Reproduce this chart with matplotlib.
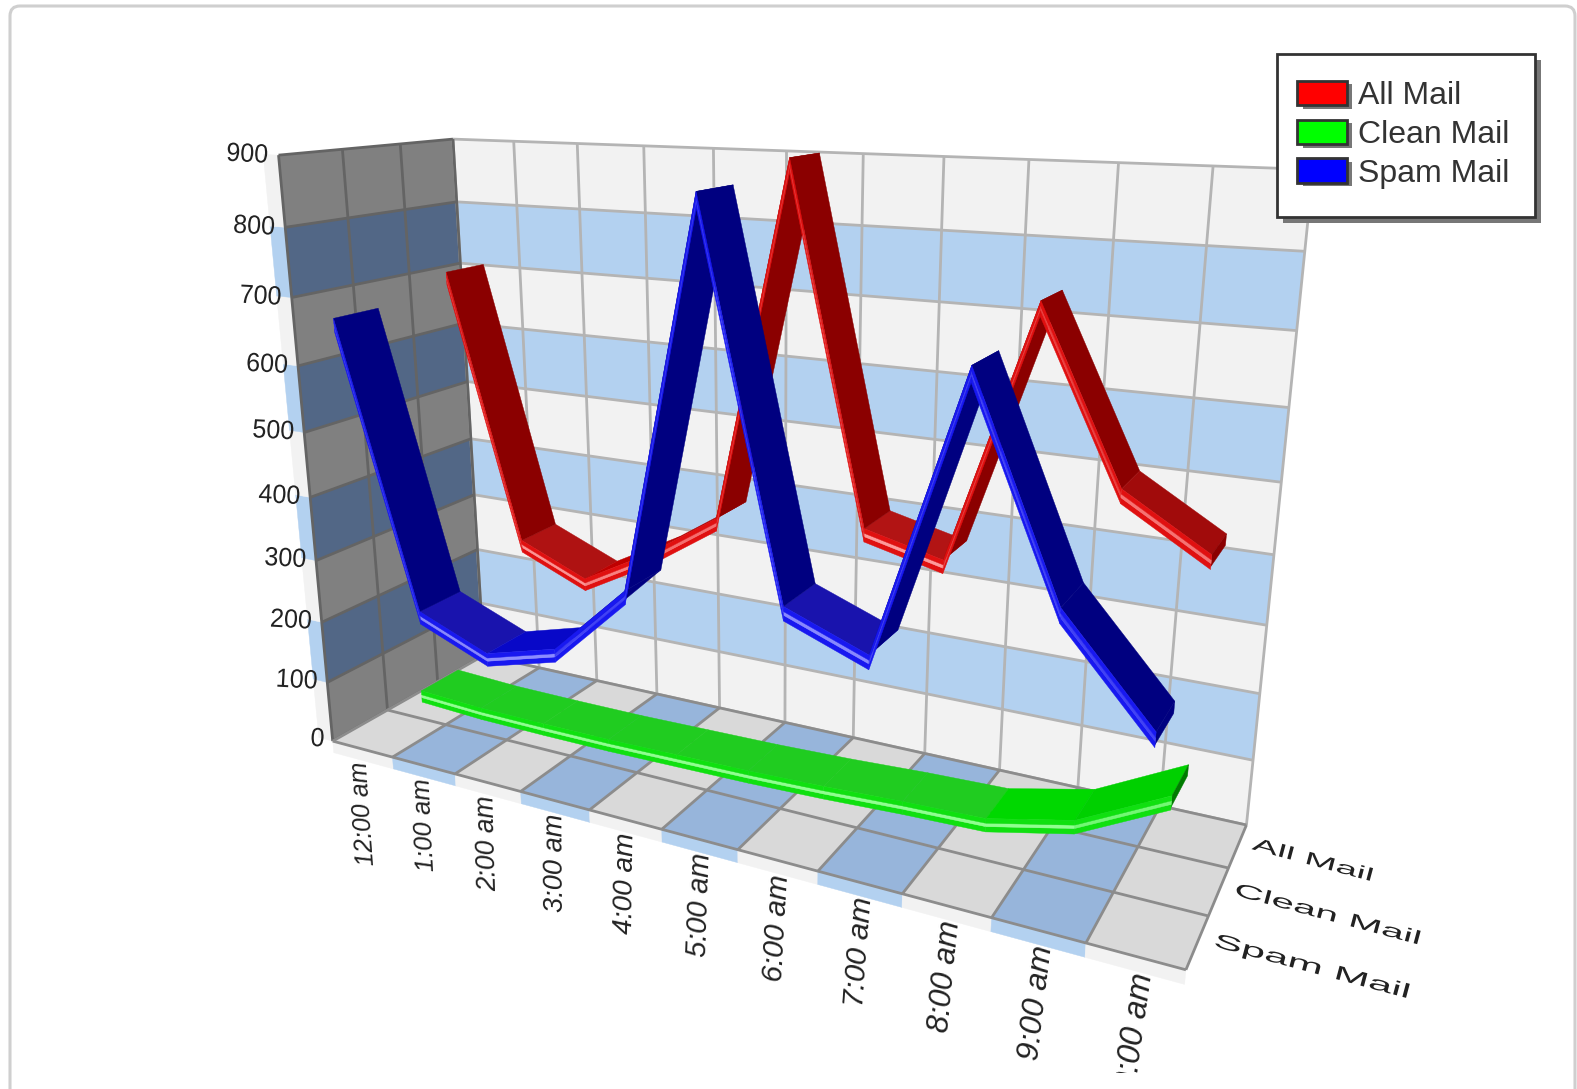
#!/usr/bin/env python3
"""Hourly mail volume as a 3D ribbon chart with banded walls and floor."""

import numpy as np
import matplotlib
matplotlib.use("Agg")
import matplotlib.pyplot as plt
from matplotlib.colors import to_rgb
from matplotlib.patches import FancyBboxPatch, Patch, Rectangle
from matplotlib.patheffects import AbstractPathEffect, withSimplePatchShadow
from matplotlib.transforms import Affine2D, Bbox, IdentityTransform
from mpl_toolkits.mplot3d import proj3d
from mpl_toolkits.mplot3d.art3d import Line3DCollection, Poly3DCollection

WIDTH, HEIGHT = 1577, 1089

hours = ["12:00 am", "1:00 am", "2:00 am", "3:00 am", "4:00 am", "5:00 am",
         "6:00 am", "7:00 am", "8:00 am", "9:00 am", "10:00 am"]
series_names = ["All Mail", "Clean Mail", "Spam Mail"]
all_mail = [704, 278, 232, 293, 368, 900, 388, 360, 732, 496, 425]
clean_mail = [40, 35, 34, 34, 36, 38, 42, 48, 52, 80, 145]
spam_mail = [672, 244, 200, 230, 338, 877, 358, 314, 696, 420, 288]
z_ticks = [0, 100, 200, 300, 400, 500, 600, 700, 800, 900]

RED = dict(dark="#8b0000", flat="#b21414", rise="#d40000", pure="#e01010", pale="#ff9a9a", cap="#8b0000")
GREEN = dict(dark="#00c000", flat="#20cc20", rise="#00d800", pure="#10e010", pale="#90ff90", cap="#007c00")
BLUE = dict(dark="#000080", flat="#1a14b0", rise="#0808c8", pure="#1818f0", pale="#8c8cff", cap="#000080")

# camera fitted against the wall corners of the chart
ELEV, AZIM, ROLL, FOCAL = 16.75, -62.614, 0.104, 0.2437
BOX = (1.0, 0.2902, 0.6802)
SCALE, TX, TY = 6176.75, 762.85, 490.32

RIBBON_WIDTH = 0.74
RIBBON_THICK = 20.0
CAP_THICK = 16.0


class Stretch(AbstractPathEffect):
    """Scale glyphs in the text's own frame, for the look of text lying on a tilted plane."""

    def __init__(self, sx=1.0, sy=1.0, shear=0.0):
        super().__init__()
        self.local = Affine2D().skew_deg(shear, 0).scale(sx, sy)

    def draw_path(self, renderer, gc, tpath, affine, rgbFace=None):
        renderer.draw_path(gc, tpath, self.local + affine, rgbFace)


def add_polys(ax, verts, colors, zorder):
    col = Poly3DCollection(verts, facecolors=colors, edgecolors=colors, linewidths=0.3, zorder=zorder)
    ax.add_collection3d(col, autolim=False)


def add_lines(ax, segs, color, lw, zorder):
    ax.add_collection3d(Line3DCollection(segs, colors=color, linewidths=lw, zorder=zorder), autolim=False)


def draw_walls(ax):
    n_x, n_y, z_top = len(hours), len(series_names), z_ticks[-1]
    back, back_c, side, side_c, strip, strip_c = [], [], [], [], [], []
    for k, (lo, hi) in enumerate(zip(z_ticks[:-1], z_ticks[1:])):
        banded = k % 2 == 1
        back.append([(0, n_y, lo), (n_x, n_y, lo), (n_x, n_y, hi), (0, n_y, hi)])
        back_c.append("#b3d1f0" if banded else "#f2f2f2")
        side.append([(0, 0, lo), (0, n_y, lo), (0, n_y, hi), (0, 0, hi)])
        side_c.append("#526786" if banded else "#808080")
        strip.append([(-0.24, 0, lo), (0, 0, lo), (0, 0, hi), (-0.24, 0, hi)])
        strip_c.append("#b3d1f0" if banded else "#f2f2f2")
    add_polys(ax, back, back_c, 1)
    add_polys(ax, side, side_c, 1)
    add_polys(ax, strip, strip_c, 1)

    segs = [[(i, n_y, 0), (i, n_y, z_top)] for i in range(n_x + 1)]
    segs += [[(0, n_y, z), (n_x, n_y, z)] for z in z_ticks]
    add_lines(ax, segs, "#b4b4b4", 2.0, 2)
    segs = [[(0, j, 0), (0, j, z_top)] for j in range(n_y + 1)]
    segs += [[(0, 0, z), (0, n_y, z)] for z in z_ticks]
    add_lines(ax, segs, "#646464", 2.0, 2)


def draw_floor(ax):
    n_x, n_y = len(hours), len(series_names)
    floor, floor_c, edge, edge_c = [], [], [], []
    for i in range(n_x):
        banded = i % 2 == 1
        floor.append([(i, 0, 0), (i + 1, 0, 0), (i + 1, n_y, 0), (i, n_y, 0)])
        floor_c.append("#97b5db" if banded else "#d9d9d9")
        edge.append([(i, 0, -20), (i + 1, 0, -20), (i + 1, 0, 0), (i, 0, 0)])
        edge_c.append("#b3d1f0" if banded else "#f2f2f2")
    add_polys(ax, edge, edge_c, 3)
    add_polys(ax, floor, floor_c, 3)
    segs = [[(i, 0, 0), (i, n_y, 0)] for i in range(n_x + 1)]
    segs += [[(0, j, 0), (n_x, j, 0)] for j in range(n_y + 1)]
    add_lines(ax, segs, "#8c8c8c", 2.0, 4)


def mix(a, b, t):
    return tuple((1 - t) * np.array(to_rgb(a)) + t * np.array(to_rgb(b)))


def draw_ribbon(ax, values, row, style, zorder):
    """One band per hour step, a bevelled front side and a cap at the last point."""
    x_world = BOX[0] / len(hours)
    y_back, y_front = row + RIBBON_WIDTH / 2, row - RIBBON_WIDTH / 2
    verts, colors = [], []
    for i in range(len(values) - 1):
        x0, x1, z0, z1 = i + 0.5, i + 1.5, values[i], values[i + 1]
        dz_world = (z1 - z0) / z_ticks[-1] * BOX[2]
        flatness = x_world / np.hypot(x_world, dz_world)
        t = float(np.clip((flatness - 0.75) / 0.2, 0, 1))
        verts.append([(x0, y_back, z0), (x1, y_back, z1), (x1, y_front, z1), (x0, y_front, z0)])
        colors.append(mix(style["dark"], style["rise"] if z1 - z0 > 15 else style["flat"], t))
        depths = (0.0, 0.35, 0.6, 1.0)
        strip_colors = (style["pure"], mix(style["pure"], style["pale"], 0.35 + 0.65 * t), style["pure"])
        for top, bottom, c in zip(depths[:-1], depths[1:], strip_colors):
            a, b = top * RIBBON_THICK, bottom * RIBBON_THICK
            verts.append([(x0, y_front, z0 - a), (x1, y_front, z1 - a), (x1, y_front, z1 - b), (x0, y_front, z0 - b)])
            colors.append(c)
    x_end, z_end = len(values) - 0.5, values[-1]
    verts.append([(x_end, y_front, z_end), (x_end, y_back, z_end),
                  (x_end, y_back, z_end - CAP_THICK), (x_end, y_front, z_end - CAP_THICK)])
    colors.append(to_rgb(style["cap"]))
    add_polys(ax, verts, colors, zorder)


def label3d(ax, x, y, z, s, **kwargs):
    # Text3D overrides rotation, so place plain text at the projected anchor
    u, v, _ = proj3d.proj_transform(x, y, z, ax.get_proj())
    return ax.text2D(u, v, s, transform=ax.transData, **kwargs)


def draw_labels(ax):
    for z in z_ticks:
        label3d(ax, -0.12, 0, z, str(z), ha="right", va="center", fontsize=19, color="#222222",
                family="Liberation Sans", rotation=-3, path_effects=[Stretch(sx=0.95)])
    clip = Bbox.from_extents(0, HEIGHT - 1073, WIDTH, HEIGHT)
    for i, hour in enumerate(hours):
        t = label3d(ax, i + 0.5, 0, -20, hour, ha="center", va="top", rotation=94 - 1.2 * i,
                    fontsize=18 + 0.55 * i, color="#222222", family="Liberation Sans", style="italic",
                    clip_on=True)
        t.set_clip_box(clip)
    for j, name in enumerate(series_names):
        row = len(series_names) - 0.5 - j
        label3d(ax, len(hours) + 0.15, row, 0, name, ha="left", va="baseline", rotation=-15,
                rotation_mode="anchor", fontsize=13 + 0.7 * j, color="#222222",
                family="Liberation Sans", path_effects=[Stretch(sx=2.15)])


def draw_legend(fig):
    frame = Rectangle((1277, HEIGHT - 217), 258, 163, transform=IdentityTransform(), fc="white",
                      ec="#333333", lw=2, zorder=4)
    frame.set_path_effects([withSimplePatchShadow(offset=(4.5, -4.5), shadow_rgbFace="#777777", alpha=1)])
    fig.add_artist(frame)
    handles = [Patch(facecolor=c, edgecolor="#333333", linewidth=2, label=name)
               for c, name in zip(("#ff0000", "#00ff00", "#0000ff"), series_names)]
    leg = fig.legend(handles=handles, loc="upper left",
                     bbox_to_anchor=(1297 / WIDTH, 1 - 81 / HEIGHT), borderaxespad=0,
                     prop=dict(family="Liberation Sans", size=23), frameon=False,
                     handlelength=1.56, handleheight=0.8,
                     handletextpad=0.35, labelspacing=0.26, borderpad=0)
    for h in leg.legend_handles:
        h.set_path_effects([withSimplePatchShadow(offset=(4, -2.5), shadow_rgbFace="#777777", alpha=1)])
    for text in leg.get_texts():
        text.set_color("#333333")


def main():
    fig = plt.figure(figsize=(WIDTH / 100, HEIGHT / 100), dpi=100)
    fig.add_artist(FancyBboxPatch((10, -30), 1565, HEIGHT + 30 - 6, boxstyle="round,pad=0,rounding_size=10",
                                  transform=IdentityTransform(), fc="white", ec="#cfcfcf", lw=2.2, zorder=-1))

    # 3D axes keep a view window of -0.095..0.09 in projected units
    size = SCALE * 0.185
    left = TX - SCALE * 0.095
    bottom_px = TY + SCALE * 0.095
    ax = fig.add_axes([left / WIDTH, (HEIGHT - bottom_px) / HEIGHT, size / WIDTH, size / HEIGHT],
                      projection="3d", computed_zorder=False)
    ax.set_xlim(0, len(hours), view_margin=0)
    ax.set_ylim(0, len(series_names), view_margin=0)
    ax.set_zlim(0, z_ticks[-1], view_margin=0)
    ax.view_init(elev=ELEV, azim=AZIM, roll=ROLL)
    ax.set_proj_type("persp", focal_length=FOCAL)
    ax.set_box_aspect(BOX)
    ax.set_axis_off()
    ax.patch.set_visible(False)

    draw_walls(ax)
    draw_floor(ax)
    draw_ribbon(ax, all_mail, 2.5, RED, 5)
    draw_ribbon(ax, clean_mail, 1.5, GREEN, 6)
    draw_ribbon(ax, spam_mail, 0.5, BLUE, 7)
    draw_labels(ax)
    draw_legend(fig)

    fig.savefig("out.png", dpi=100)


if __name__ == "__main__":
    main()
